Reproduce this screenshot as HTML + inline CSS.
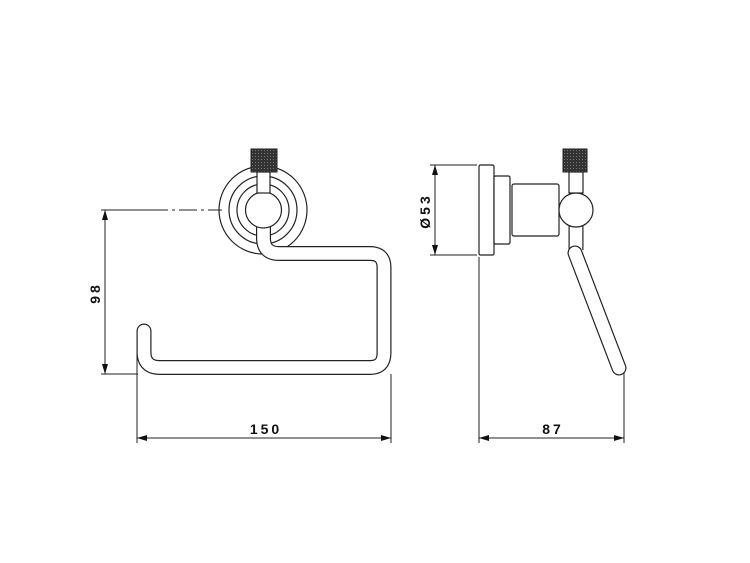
<!DOCTYPE html>
<html><head><style>
html,body{margin:0;padding:0;background:#fff;}
svg{display:block;}
text{font-family:"Liberation Sans",sans-serif;font-weight:bold;font-size:14px;fill:#111;letter-spacing:3px;}
</style></head><body>
<svg width="750" height="563" viewBox="0 0 750 563" xmlns="http://www.w3.org/2000/svg">
<defs>
<pattern id="kn" width="3" height="3" patternUnits="userSpaceOnUse">
<rect width="3" height="3" fill="#333"/><rect width="1" height="1" fill="#777"/>
</pattern>
<marker id="ar" viewBox="0 0 10 6" refX="10" refY="3" markerWidth="10" markerHeight="6" orient="auto-start-reverse" markerUnits="userSpaceOnUse">
<path d="M0,0 L10,3 L0,6 z" fill="#111"/>
</marker>
</defs>
<g fill="none" stroke="#222" stroke-width="1.2">
<!-- front view rosette -->
<circle cx="263" cy="210" r="44" fill="#fff"/>
<circle cx="263" cy="210" r="34"/>
<circle cx="263" cy="210" r="26"/>
<!-- tube -->
<path d="M263.5,228 L263.5,238 Q263.5,253.5 279,253.5 L370,253.5 Q384,253.5 384,267.5 L384,353 Q384,367.5 370,367.5 L160,367.5 Q144,367.5 144,352 L144,331" stroke="#222" stroke-width="15" stroke-linecap="round"/>
<path d="M263.5,226 L263.5,238 Q263.5,253.5 279,253.5 L370,253.5 Q384,253.5 384,267.5 L384,353 Q384,367.5 370,367.5 L160,367.5 Q144,367.5 144,352 L144,331" stroke="#fff" stroke-width="12.6" stroke-linecap="round"/>
<circle cx="263.5" cy="210" r="18" fill="#fff"/>
<rect x="257" y="172" width="13" height="21" fill="#fff"/>
<rect x="251" y="149" width="26" height="23" fill="url(#kn)" stroke-width="1"/>
<!-- side view -->
<rect x="479" y="165" width="15" height="90" rx="1.5" fill="#fff"/>
<rect x="494" y="176" width="16" height="68" rx="1.5" fill="#fff"/>
<rect x="512" y="184" width="47" height="52" rx="2" fill="#fff"/>
<path d="M576,226 L576,250" stroke="#222" stroke-width="15"/>
<path d="M576,226 L576,252" stroke="#fff" stroke-width="12.6"/>
<path d="M575,253 L619,368" stroke="#222" stroke-width="15" stroke-linecap="round"/>
<path d="M575,253 L619,368" stroke="#fff" stroke-width="12.6" stroke-linecap="round"/>
<circle cx="576" cy="210" r="17" fill="#fff"/>
<rect x="569" y="172" width="14" height="21" fill="#fff"/>
<rect x="563" y="149" width="24" height="23" fill="url(#kn)" stroke-width="1"/>
</g>
<g stroke="#222" stroke-width="1" fill="none">
<!-- 98 -->
<line x1="101" y1="210" x2="150" y2="210"/>
<line x1="150" y1="210" x2="222" y2="210" stroke-dasharray="18,4,3,4"/>
<line x1="101" y1="374" x2="138" y2="374"/>
<line x1="105" y1="210" x2="105" y2="374" marker-start="url(#ar)" marker-end="url(#ar)"/>
<!-- 150 -->
<line x1="137" y1="340" x2="137" y2="443"/>
<line x1="391" y1="374" x2="391" y2="443"/>
<line x1="137" y1="438" x2="391" y2="438" marker-start="url(#ar)" marker-end="url(#ar)"/>
<!-- 53 -->
<line x1="430" y1="165" x2="477" y2="165"/>
<line x1="430" y1="255" x2="477" y2="255"/>
<line x1="435" y1="165" x2="435" y2="255" marker-start="url(#ar)" marker-end="url(#ar)"/>
<!-- 87 -->
<line x1="479" y1="257" x2="479" y2="443"/>
<line x1="624" y1="372" x2="624" y2="443"/>
<line x1="479" y1="438" x2="624" y2="438" marker-start="url(#ar)" marker-end="url(#ar)"/>
</g>
<text x="266" y="434" text-anchor="middle">150</text>
<text x="553" y="434" text-anchor="middle">87</text>
<text transform="translate(100,293) rotate(-90)" text-anchor="middle">98</text>
<text transform="translate(430,211) rotate(-90)" text-anchor="middle">Ø53</text>
</svg>
</body></html>
